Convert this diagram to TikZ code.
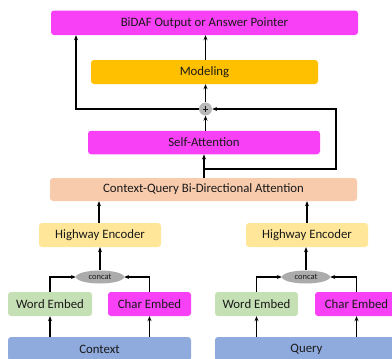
\documentclass[tikz,border=0pt]{standalone}
\usepackage{fontspec}
\setmainfont{Carlito}
\usetikzlibrary{arrows.meta,shapes.geometric}
\definecolor{magentabox}{HTML}{F840F6}
\definecolor{modelorange}{HTML}{FFC000}
\definecolor{peach}{HTML}{F8CBAD}
\definecolor{hwyellow}{HTML}{FFE699}
\definecolor{wordgreen}{HTML}{C5E0B4}
\definecolor{inputblue}{HTML}{8FAADC}
\definecolor{concatgray}{HTML}{ABABAB}
\definecolor{txt}{HTML}{1A1A1A}
\tikzset{
  blk/.style={rectangle, rounded corners=3pt, inner sep=0pt, text=txt, font=\fontsize{12.8}{15}\selectfont},
  emb/.style={blk, minimum width=83pt, minimum height=24pt},
  arr/.style={-{Stealth[length=5pt,width=4pt]}, line width=1.2pt, black},
  cat/.style={ellipse, fill=concatgray, inner sep=0pt, minimum width=48pt, minimum height=13pt, font=\fontsize{8.5}{9}\selectfont, text=txt},
}
\begin{document}
\begin{tikzpicture}[x=1pt,y=-1pt]
\useasboundingbox (0,0) rectangle (392,359);
\clip (0,0) rectangle (392,359);
% top stack
\node[blk, fill=magentabox, minimum width=307pt, minimum height=24.5pt] (out) at (204.5,22.75) {BiDAF Output or Answer Pointer};
\node[blk, fill=modelorange, minimum width=227pt, minimum height=24pt] (model) at (204.5,72) {Modeling};
\node[circle, fill=concatgray!85!white, minimum size=13pt, inner sep=0pt] (plus) at (205.5,109) {};
\draw[line width=0.9pt, txt] ([xshift=-2.6pt]plus.center) -- ([xshift=2.6pt]plus.center)
  ([yshift=-2.6pt]plus.center) -- ([yshift=2.6pt]plus.center);
\node[blk, fill=magentabox, minimum width=232pt, minimum height=23.5pt] (self) at (204,142.5) {Self-Attention};
\node[blk, fill=peach, minimum width=307pt, minimum height=23pt] (cq) at (203.5,189.5) {Context-Query Bi-Directional Attention};
% context branch
\node[blk, fill=hwyellow, minimum width=122pt, minimum height=24pt] (hwl) at (100,235) {Highway Encoder};
\node[cat] (catl) at (100,277) {concat};
\node[emb, fill=wordgreen, minimum width=84pt] (wel) at (50,304) {Word Embed};
\node[emb, fill=magentabox] (cel) at (149.5,304) {Char Embed};
\node[blk, fill=inputblue, minimum width=183pt, minimum height=24pt] (ctx) at (99.5,349) {Context};
% query branch
\node[blk, fill=hwyellow, minimum width=122pt, minimum height=24pt] (hwr) at (307,235) {Highway Encoder};
\node[cat] (catr) at (306,277) {concat};
\node[emb, fill=wordgreen] (wer) at (256.5,304) {Word Embed};
\node[emb, fill=magentabox] (cer) at (356.5,304) {Char Embed};
\node[blk, fill=inputblue, minimum width=183pt, minimum height=24pt] (qry) at (306.5,349) {Query};
% helper points
\coordinate (skipL) at (76,109);
\coordinate (branch) at (204,169);
\coordinate (skipR) at (336,109);
% connectors: upper part
\draw[arr] (model.north -| plus) -- (out.south -| plus);
\draw[arr] (plus.north) -- (model.south -| plus);
\draw[arr] (plus.west) -- (skipL) -- (skipL |- out.south);
\draw[arr] (self.north -| plus) -- (plus.south);
\draw[arr] (cq.north -| branch) -- (self.south -| branch);
\draw[arr] (branch) -- (branch -| skipR) -- (skipR) -- (plus.east);
% connectors: encoders to attention
\draw[arr] (hwl.north -| 99,0) -- (cq.south -| 99,0);
\draw[arr] (hwr.north) -- (cq.south -| hwr);
% connectors: embeddings
\draw[arr] (catl.north) -- (hwl.south);
\draw[arr] (catr.north) -- (hwr.south -| catr);
\draw[arr] (wel.north) |- (catl.west);
\draw[arr] (cel.north) |- (catl.east);
\draw[arr] (wer.north) |- (catr.west);
\draw[arr] (cer.north) |- (catr.east);
\draw[arr] (ctx.north -| wel) -- (wel.south);
\draw[arr] (ctx.north -| cel) -- (cel.south);
\draw[arr] (qry.north -| wer) -- (wer.south);
\draw[arr] (qry.north -| cer) -- (cer.south);
\end{tikzpicture}
\end{document}
